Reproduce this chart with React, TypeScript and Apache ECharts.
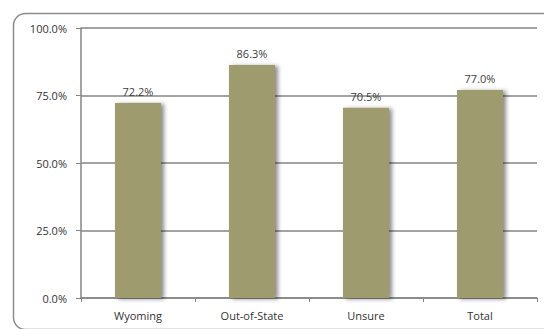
import React, { useEffect, useRef } from "react";
import * as echarts from "echarts";

const categories = ["Wyoming", "Out-of-State", "Unsure", "Total"];
const values = [72.2, 86.3, 70.5, 77.0];
const yTicks = [0, 25, 50, 75, 100];

export default function App() {
  const ref = useRef<HTMLDivElement>(null);
  useEffect(() => {
    if (!ref.current) return;
    const chart = echarts.init(ref.current, null, { renderer: "svg" });
    chart.setOption({
      animation: false,
      backgroundColor: "#ffffff",
      textStyle: { fontFamily: "Open Sans" },
      graphic: [
        {
          type: "rect",
          left: 11,
          top: 11,
          shape: { width: 545, height: 316, r: 12 },
          style: { fill: "none", stroke: "#8c8c8c", lineWidth: 1.5 },
          z: -1,
        },
      ],
      grid: { left: 81, right: 7, top: 28, bottom: 31 },
      xAxis: {
        type: "category",
        data: categories,
        axisLine: { show: true, lineStyle: { color: "#858585", width: 1.5 } },
        axisTick: { show: true, alignWithLabel: false, length: 4, lineStyle: { color: "#858585" } },
        axisLabel: { color: "#333", fontSize: 11, margin: 12 },
      },
      yAxis: {
        type: "value",
        min: 0,
        max: 100,
        interval: 25,
        axisLine: { show: true, lineStyle: { color: "#858585", width: 1.5 } },
        axisTick: { show: true, length: 5, lineStyle: { color: "#858585" } },
        splitLine: { show: true, lineStyle: { color: "#858585", width: 1.5 } },
        axisLabel: {
          color: "#333",
          fontSize: 11,
          margin: 14,
          formatter: (v: number) => (yTicks.includes(v) ? v.toFixed(1) + "%" : ""),
        },
      },
      series: [
        {
          type: "bar",
          data: values,
          barWidth: 46,
          itemStyle: {
            color: "#9e9c6e",
            shadowColor: "rgba(0,0,0,0.45)",
            shadowBlur: 4,
            shadowOffsetX: 3,
            shadowOffsetY: 1,
          },
          label: {
            show: true,
            position: "top",
            distance: 6,
            color: "#404040",
            fontSize: 11,
            formatter: (p: any) => p.value.toFixed(1) + "%",
          },
        },
      ],
    });
    return () => chart.dispose();
  }, []);
  return (
    <div
      ref={ref}
      style={{ position: "absolute", left: 0, top: 0, width: 544, height: 329 }}
    />
  );
}
